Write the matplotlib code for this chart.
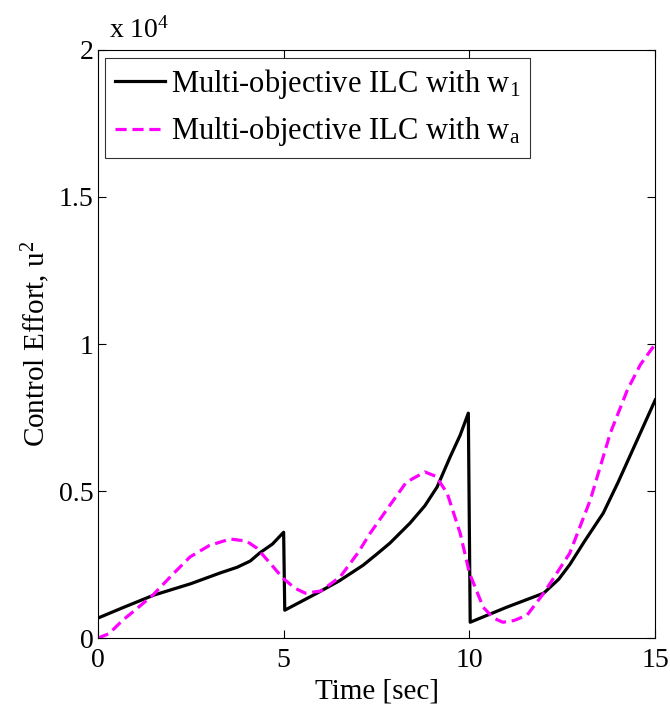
import matplotlib
matplotlib.use("Agg")
import matplotlib.pyplot as plt

plt.rcParams["font.family"] = ["Liberation Serif", "DejaVu Serif"]
plt.rcParams["mathtext.fontset"] = "custom"
plt.rcParams["mathtext.rm"] = "Liberation Serif"
plt.rcParams["mathtext.it"] = "Liberation Serif"

# Courbe noire : ILC multi-objectif avec w1 (valeurs en unités de 1e4)
t_w1 = [0, 0.7, 1.5, 2.5, 3.3, 3.75, 4.1, 4.35, 4.7, 5.0, 5.03, 5.9, 6.5, 7.14, 7.5, 7.86,
        8.4, 8.8, 9.13, 9.48, 9.75, 9.97, 10.02, 11.0, 12.0, 12.4, 12.7, 13.1, 13.6, 14.0,
        14.5, 15.0]
u_w1 = [0.068, 0.105, 0.146, 0.185, 0.222, 0.241, 0.262, 0.289, 0.32, 0.36, 0.095, 0.153,
        0.195, 0.248, 0.285, 0.323, 0.391, 0.45, 0.514, 0.616, 0.69, 0.765, 0.054, 0.105,
        0.153, 0.2, 0.25, 0.33, 0.425, 0.53, 0.67, 0.81]

# Courbe magenta : ILC multi-objectif avec wa
t_wa = [0, 0.3, 0.67, 1.0, 1.48, 2.0, 2.48, 3.0, 3.56, 4.0, 4.28, 4.6, 4.98, 5.3, 5.58,
        6.0, 6.52, 7.0, 7.33, 7.86, 8.3, 8.8, 9.1, 9.4, 9.75, 10.0, 10.37, 10.65, 10.9,
        11.2, 11.55, 12.0, 12.7, 13.25, 13.79, 14.25, 14.6, 15.0]
u_wa = [0.0, 0.015, 0.061, 0.095, 0.146, 0.215, 0.276, 0.315, 0.337, 0.33, 0.306, 0.26,
        0.204, 0.17, 0.153, 0.16, 0.208, 0.29, 0.357, 0.452, 0.53, 0.565, 0.55, 0.493,
        0.357, 0.221, 0.105, 0.068, 0.054, 0.06, 0.078, 0.153, 0.289, 0.469, 0.697, 0.844,
        0.93, 1.0]

labels = [r"Multi-objective ILC with w$_{\mathregular{1}}$",
          r"Multi-objective ILC with w$_{\mathregular{a}}$"]

fig = plt.figure(figsize=(6.7, 7.13), dpi=100)
ax = fig.add_axes([0.146, 0.105, 0.832, 0.825])

ax.plot(t_w1, u_w1, color="black", lw=2.3, label=labels[0])
ax.plot(t_wa, u_wa, color="#ff00ff", lw=2.3, dashes=(3.5, 1.8), label=labels[1])

ax.set_xlim(0, 15)
ax.set_ylim(0, 2)
ax.set_xticks([0, 5, 10, 15])
ax.set_yticks([0, 0.5, 1, 1.5, 2])
ax.set_yticklabels(["0", "0.5", "1", "1.5", "2"])
ax.tick_params(direction="in", top=True, right=True, labelsize=20, length=6, width=0.8, pad=3)
ax.tick_params(axis="x", pad=7)
for s in ax.spines.values():
    s.set_linewidth(0.8)

ax.text(0.02, 1.01, r"x 10$^{\mathregular{4}}$", transform=ax.transAxes, fontsize=20,
        ha="left", va="bottom")

ax.set_xlabel("Time [sec]", fontsize=21, labelpad=4)
ax.set_ylabel(r"Control Effort, u$^{\mathregular{2}}$", fontsize=21, labelpad=5)

leg = ax.legend(loc="upper left", fontsize=22, frameon=True, fancybox=False,
                edgecolor="black", handlelength=1.65, borderaxespad=0.25,
                borderpad=0.3, labelspacing=0.45, handletextpad=0.2)
leg.get_frame().set_linewidth(0.8)

fig.savefig("out.png", dpi=100)
